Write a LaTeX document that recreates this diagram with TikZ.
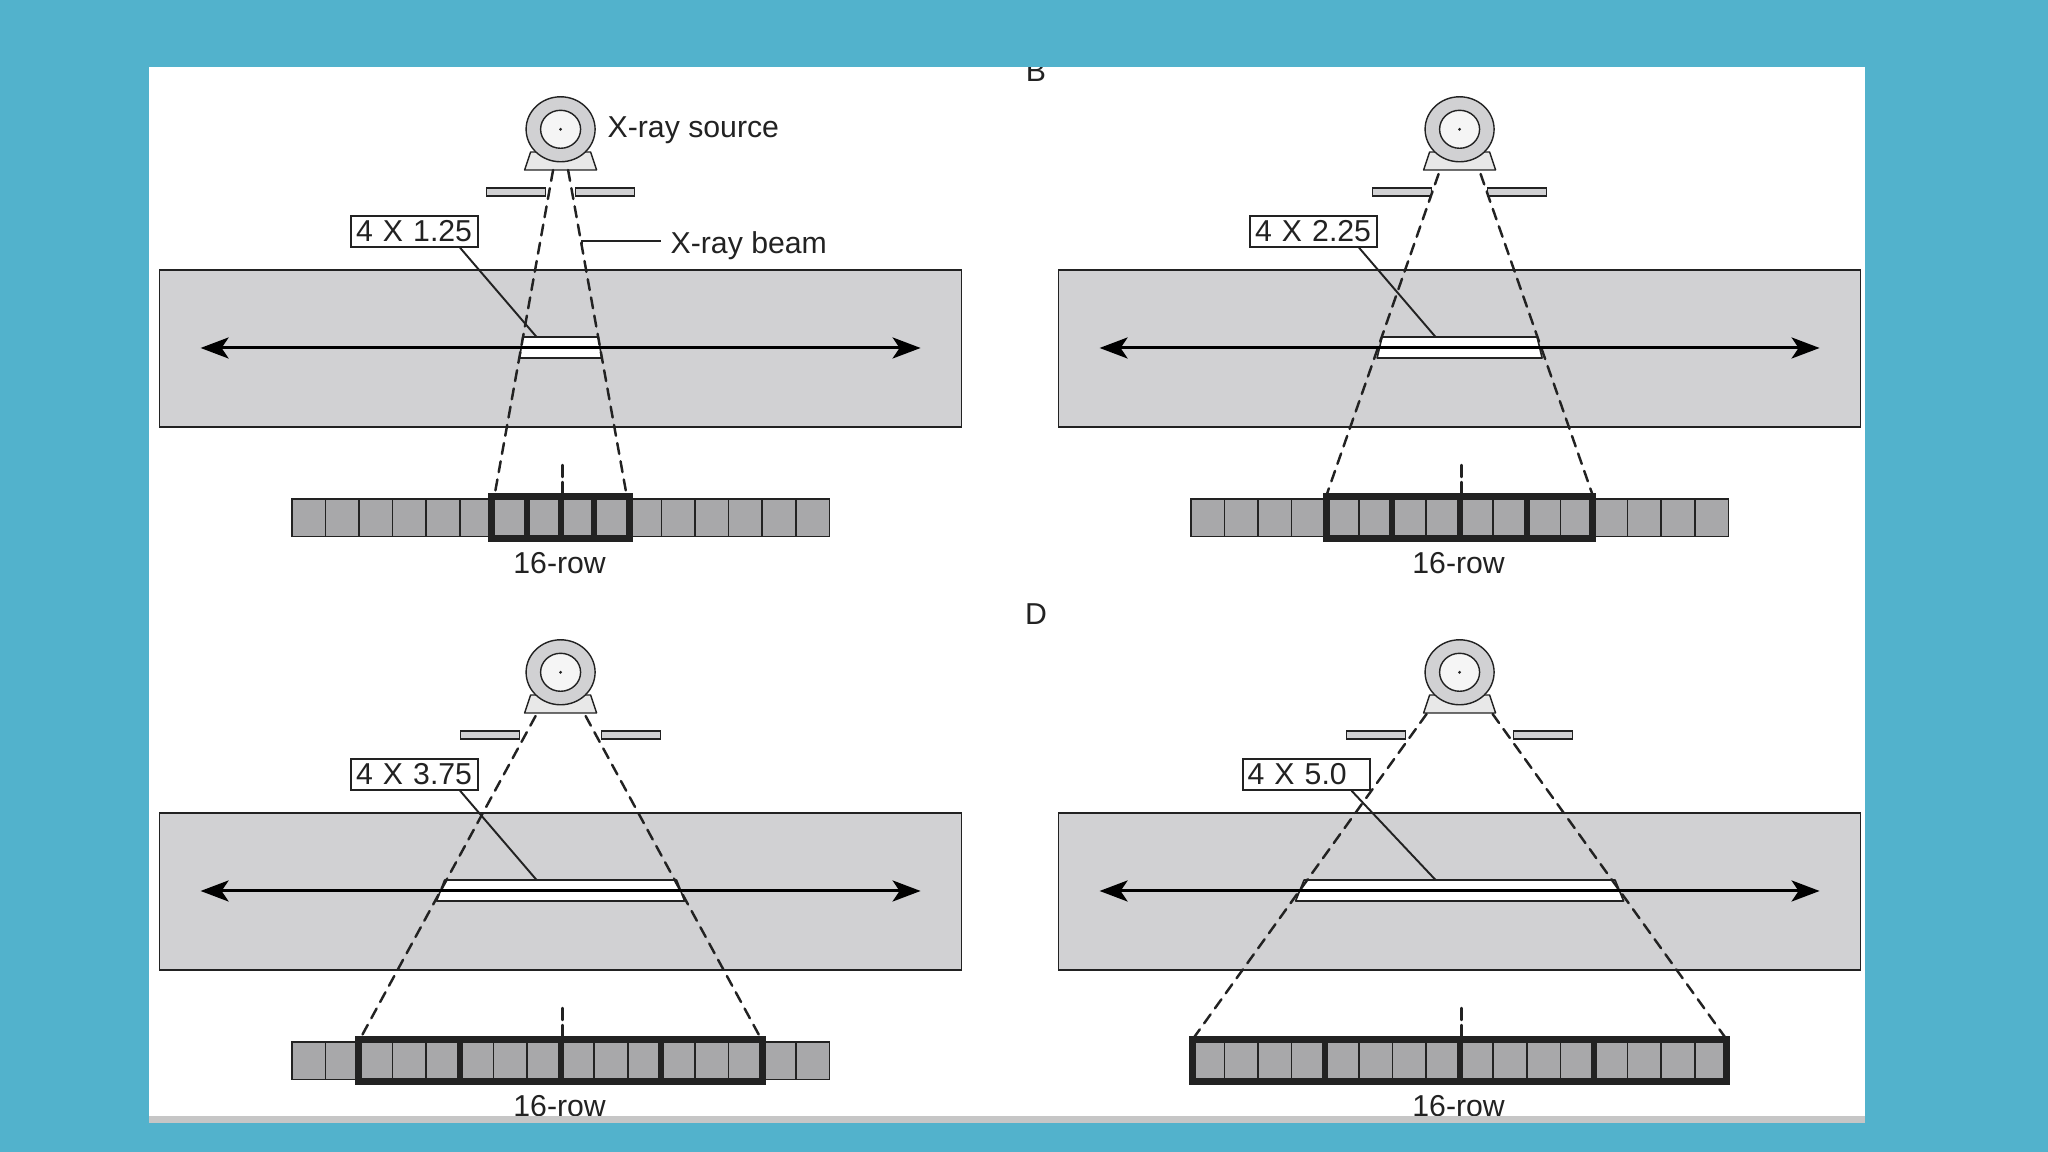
\documentclass[tikz,border=0pt]{standalone}
\usepackage{fontspec}
\setmainfont{Liberation Sans}
\usepackage{tikz}
\usetikzlibrary{calc, arrows.meta}
\usepackage{tkz-euclide}
\definecolor{tealbg}{HTML}{52B2CC}
\definecolor{bodygray}{HTML}{D1D1D3}
\definecolor{cellgray}{HTML}{A8A8AA}
\definecolor{inkdark}{HTML}{222222}
\begin{document}
\begin{tikzpicture}[
    every node/.style={font=\fontsize{8.6}{10}\selectfont, text=inkdark},
    bodybox/.style={draw=inkdark, fill=bodygray, line width=0.45pt},
    beamline/.style={draw=inkdark, line width=0.7pt, dash pattern=on 0.11cm off 0.075cm},
    tickline/.style={draw=inkdark, line width=0.7pt, dash pattern=on 0.12cm off 0.05cm},
    leaderline/.style={draw=inkdark, line width=0.55pt},
    tubepart/.style={draw=inkdark, line width=0.4pt},
    slabbox/.style={draw=inkdark, fill=white, line width=0.45pt},
    travelarrow/.style={draw=black, line width=0.85pt, {Stealth[length=0.28cm, width=0.21cm, inset=0.07cm]}-{Stealth[length=0.28cm, width=0.21cm, inset=0.07cm]}},
    cellbox/.style={draw=inkdark, fill=cellgray, line width=0.5pt},
    framebox/.style={draw=inkdark, line width=2pt},
    sepbar/.style={draw=inkdark, line width=1.7pt},
    labelbox/.style={draw=inkdark, fill=white, line width=0.55pt, minimum height=0.31cm, inner xsep=0.05cm, inner ysep=0pt, text width=1.17cm, align=left},
    plaintext/.style={inner sep=0pt}]
    \useasboundingbox (0,0) rectangle (20.48,11.52);
    \fill[tealbg] (0,0) rectangle (20.48,11.52);
    \fill[white] (1.49,0.36) rectangle (18.65,10.85);
    \foreach \cx/\dy/\lab/\labx/\coll/\beamt/\beamy/\slabt/\slabb/\beame/\fram/\grp in {
        5.606/0/4 X 1.25/-1.46/0.15/0.075/9.82/0.378/0.41/0.66/0.69/1,
        14.596/0/4 X 2.25/-1.46/0.28/0.21/9.78/0.775/0.825/1.33/1.33/2,
        5.606/-5.43/4 X 3.75/-1.46/0.41/0.25/9.79/1.16/1.24/2.0/2.02/3,
        14.596/-5.43/4 X 5.0/-1.535/0.54/0.33/9.81/1.555/1.64/2.66/2.67/4} {
        \begin{scope}[shift={(\cx,\dy)}]
            \tkzDefPoints{-\beamt/\beamy/P, \beamt/\beamy/Q, -\beame/6.57/R, \beame/6.57/T}
            \tkzDefPoints{-\slabt/8.15/A, \slabt/8.15/B, \slabb/7.94/C, -\slabb/7.94/D}
            \tkzDefPoints{-0.36/9.82/E, 0.36/9.82/F, 0.30/10.0/G, -0.30/10.0/H}
            \tkzDefPoints{-0.24/8.15/S, -3.6/8.04/L, 3.6/8.04/M, 0.02/6.87/U, 0.02/6.56/V}
            \draw[bodybox] (-4.01,8.82) rectangle (4.01,7.25);
            \tkzDrawPolygon[slabbox](A,B,C,D)
            \tkzDrawPolygon[tubepart, fill=gray!18](E,F,G,H)
            \draw[tubepart, fill=bodygray] (0,10.227) ellipse [x radius=0.345, y radius=0.325];
            \draw[tubepart, fill=gray!8] (0,10.227) ellipse [x radius=0.2, y radius=0.19];
            \fill[inkdark] (0,10.227) circle (0.016);
            \draw[bodybox] (-\coll-0.59,9.64) rectangle (-\coll,9.56);
            \draw[bodybox] (\coll,9.64) rectangle (\coll+0.59,9.56);
            \tkzDrawSegments[beamline](P,R Q,T)
            \tkzDrawSegments[tickline](U,V)
            \tkzDrawSegments[travelarrow](L,M)
            \node[labelbox] (tag) at (\labx,9.207) {\lab};
            \draw[leaderline] ($(tag.south east)+(-0.19,0)$) -- (S);
            \foreach \i in {-8,...,7}
                \draw[cellbox] ({\i*0.336},6.527) rectangle ++(0.336,-0.372);
            \draw[framebox] (-\fram,6.553) rectangle (\fram,6.133);
            \foreach \j in {-1,0,1}
                \draw[sepbar] ({\j*\grp*0.336},6.553) -- ++(0,-0.42);
            \node[plaintext, anchor=base] (rowtag) at (-0.01,5.785) {16-row};
        \end{scope}
    }
    \node[plaintext, anchor=base west] (srclabel) at (6.07,10.143) {X-ray source};
    \node[plaintext, anchor=base west] (beamlabel) at (6.70,8.985) {X-ray beam};
    \coordinate (beamhit) at (5.818,9.08);
    \coordinate (beamend) at (6.61,9.106);
    \draw[leaderline] (beamhit) |- (beamend);
    \node[plaintext, anchor=base] (panelb) at (10.36,10.70) {B};
    \node[plaintext, anchor=base] (paneld) at (10.36,5.27) {D};
    \fill[tealbg] (0,10.85) rectangle (20.48,11.52);
    \fill[gray!45] (1.49,0.36) rectangle (18.65,0.29);
    \fill[tealbg] (0,0) rectangle (20.48,0.29);
\end{tikzpicture}
\end{document}
